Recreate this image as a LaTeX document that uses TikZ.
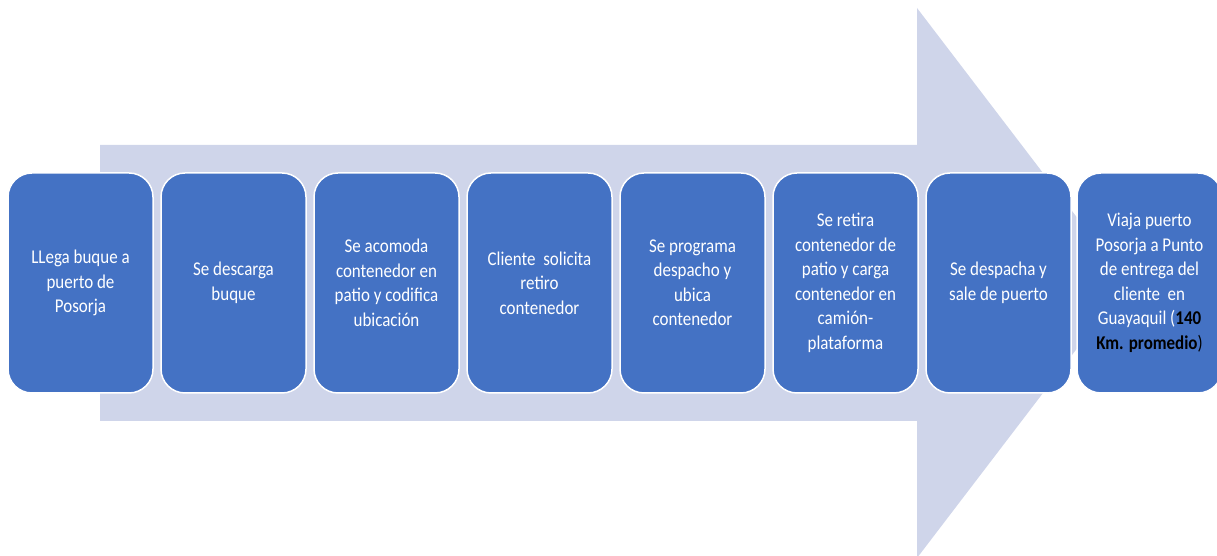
\documentclass[tikz,border=0pt]{standalone}
\usepackage{fontspec}
\setmainfont{Carlito}[FakeStretch=0.87]
\definecolor{boxblue}{HTML}{4472C4}
\definecolor{arrowfill}{HTML}{CFD5EA}
\begin{document}
\begin{tikzpicture}[x=1pt,y=1pt,
  stepbox/.style={draw=white, line width=1.5pt, fill=boxblue, rounded corners=24pt,
    minimum width=145pt, minimum height=220pt, text=white, align=center,
    font=\fontsize{19.5}{24.5}\selectfont, inner sep=0pt}]
\useasboundingbox (0,0) rectangle (1217,556);
\begin{scope}
\clip (0,0) rectangle (1217,556);
\fill[arrowfill] (100,411) -- (917,411) -- (917,548) -- (1127,273) -- (917,-2) -- (917,135) -- (100,135) -- cycle;
\node[stepbox] (s1) at (80.5,273) {LLega buque a\\puerto de\\Posorja};
\node[stepbox] (s2) at (233.5,273) {Se descarga\\buque};
\node[stepbox] (s3) at (386.5,273) {Se acomoda\\contenedor en\\patio y codifica\\ubicación};
\node[stepbox] (s4) at (539.5,273) {Cliente~ solicita\\retiro\\contenedor};
\node[stepbox] (s5) at (692.5,273) {Se programa\\despacho y\\ubica\\contenedor};
\node[stepbox] (s6) at (845.5,273) {Se retira\\contenedor de\\patio y carga\\contenedor en\\camión-\\plataforma};
\node[stepbox] (s7) at (998.5,273) {Se despacha y\\sale de puerto};
\node[stepbox] (s8) at (1149.5,273) {Viaja puerto\\Posorja a Punto\\de entrega del\\cliente~ en\\Guayaquil (\textcolor{black}{\textbf{140}}\\\textcolor{black}{\textbf{Km. promedio})}};
\end{scope}
\end{tikzpicture}
\end{document}
